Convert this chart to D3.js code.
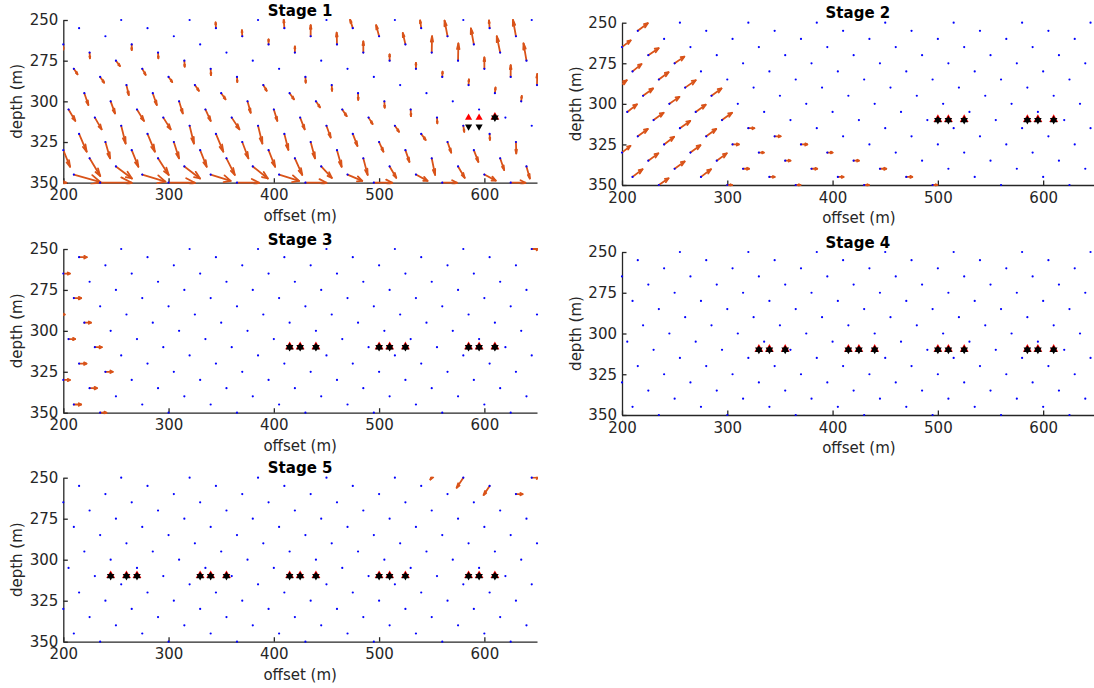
<!DOCTYPE html>
<html><head><meta charset="utf-8">
<script src="https://cdn.jsdelivr.net/npm/d3@7"></script>
<style>
body{margin:0;background:#fff;}
svg{display:block;font-family:"DejaVu Sans",sans-serif;}
</style></head><body>
<svg id="chart" width="1094" height="688"></svg>
<script>
// ---------- data ----------
const xDomain = [200, 650];
const depthDomain = [250, 350];
const xTicks = [200, 300, 400, 500, 600];
const depthTicks = [250, 275, 300, 325, 350];
const stageTitles = ["Stage 1", "Stage 2", "Stage 3", "Stage 4", "Stage 5"];
const xLabel = "offset (m)";
const yLabel = "depth (m)";

// grid of observation points (blue dots): one row every 5 m, points every 65 m
const rowDepth  = [250,255,260,265,270,275,280,285,290,295,300,305,310,315,320,325,330,335,340,345,350];
const rowFirstX = [255,215,240,200,225,250,210,235,260,220,245,205,230,255,215,240,200,225,250,210,235];
const colSpacing = 65;

// arrows: [x (m), depth (m), u (m), w (m, + = deeper)]
const stage1Arrows = [
 [345,255,-0.3,-3.5],[410,255,-0.6,-5.1],[475,255,-2.5,-5.1],[540,255,-1,-4.7],[605,255,-0.6,-4.7],
 [370,260,-0.3,-3.7],[435,260,0,-6.8],[500,260,-2.8,-6.8],[565,260,-2.8,-9.6],[630,260,-2.8,-10],
 [200,265,0,3.2],[265,265,0,3.5],[395,265,0,-3.1],[460,265,-0.3,-7.2],[525,265,-2.5,-7],[590,265,-2.8,-9.8],
 [225,270,0.3,3.5],[290,270,0.3,3.5],[420,270,0,-3.7],[485,270,0,-6.8],[550,270,0.3,-10],[615,270,-3.2,-10],
 [250,275,3.8,3.3],[315,275,0.3,3.7],[510,275,0,-3.9],[575,275,0.3,-10.6],[640,275,-2.8,-10.6],
 [210,280,3.5,3.3],[275,280,3.2,3.7],[340,280,0.3,3.9],[535,280,0,-3.7],[600,280,0,-7],
 [235,285,3.8,3.5],[300,285,3.5,3.1],[365,285,0.3,3.1],[430,285,0.3,3.5],[560,285,0.3,-3.3],[625,285,0,-7.2],
 [260,290,2.2,6.1],[325,290,3.8,3.5],[390,290,3.2,3.5],[455,290,0.3,3.5],[585,290,0.3,-3.5],[650,290,0.2,-6.8],
 [220,295,3.8,7.2],[285,295,3.8,7.2],[350,295,4.1,3.7],[415,295,4.1,3.7],[480,295,0.2,4.1],[610,295,0.6,-3.5],
 [245,300,4.1,7.4],[310,300,3.5,7.4],[375,300,3,7],[440,300,3.8,3.7],[505,300,0.3,3.9],[635,300,0.5,-3.3],
 [205,305,6.4,7],[270,305,6.6,7],[335,305,5,7],[400,305,3.3,7],[465,305,4.2,4.1],[530,305,0.3,4.1],
 [230,310,6.4,7.2],[295,310,7,7.2],[360,310,7.3,7.2],[425,310,4.3,7.2],[490,310,3.8,3.9],[555,310,0.3,3.5],
 [255,315,4.2,10.9],[320,315,4.1,10.9],[385,315,4.1,10.9],[450,315,4,7.2],[515,315,3.9,3.7],[580,315,0.9,3.7],
 [215,320,7.2,10.9],[280,320,7,10.9],[345,320,7,10.9],[410,320,3.8,9.8],[475,320,4.4,7.4],[540,320,4.2,3.7],[605,320,0.3,3.7],
 [240,325,4.4,10],[305,325,4.9,10],[370,325,5.8,10],[435,325,4.1,10],[500,325,4.1,5.9],[565,325,3.5,6.5],[630,325,0.3,7],
 [200,330,6.4,10.2],[265,330,6.3,10.2],[330,330,6.2,10.2],[395,330,6.2,10.2],[460,330,4.4,10.2],[525,330,3.8,7.2],[590,330,4.3,7.2],
 [225,335,10.1,10.9],[290,335,10.1,10.2],[355,335,7.9,10.2],[420,335,7,10.2],[485,335,4.1,10.2],[550,335,3.2,10.2],[615,335,3.8,7.2],
 [250,340,15.2,7.4],[315,340,14.9,7.4],[380,340,14.3,7.4],[445,340,10.1,7],[510,340,6.3,7],[575,340,6.3,7],[640,340,3.2,7.4],
 [210,345,25.4,4.7],[275,345,22,4.3],[340,345,19,3.9],[405,345,19,3.9],[470,345,14,3.9],[535,345,11,3.9],[600,345,10.8,3.7],
 [170,350,33,0],[235,350,30,0],[300,350,25,0],[365,350,21,0],[430,350,20,0],[495,350,17.5,0],[560,350,14,0],[625,350,14,0]
];
const stage2Arrows = [
 [215,255,9.5,-4.7],[200,265,8.2,-4.1],[225,270,9.8,-4.3],[250,275,9.2,-4.1],[210,280,8.5,-4.5],[235,285,9.2,-4.5],
 [195,290,9.5,-4.5],[260,290,10,-4.5],[220,295,9.5,-4.5],[285,295,9.5,-4.5],[245,300,9.5,-4.3],[205,305,9.2,-4.7],
 [270,305,9.5,-4.5],[230,310,9.5,-4.5],[295,310,9.5,-4.5],[255,315,9.8,-4.5],[215,320,9.5,-4.5],[280,320,9.5,-4.5],
 [240,325,9.5,-4.7],[200,330,8,-4.1],[265,330,9.5,-4.5],[225,335,9.5,-4.5],[290,335,9.5,-4.5],[250,340,9.5,-4.5],
 [210,345,9.5,-4.7],[275,345,9.5,-4.7],[235,350,9.2,-4.1],
 [320,315,5.7,0],[345,320,5.7,0],[305,325,6,0],[370,325,6,0],[330,330,4.7,0],[395,330,5,0],[355,335,5,0],[420,335,5,0],
 [315,340,5.7,0],[380,340,5.4,0],[445,340,6,0],[340,345,5,0],[405,345,5.4,0],[470,345,5.7,0],
 [300,350,4.5,0],[365,350,4.5,0],[430,350,4.5,0],[495,350,4.5,0]
];
const stage3Arrows = [
 [215,255,7.3,0],[200,265,6.3,0],[210,280,7,0],[195,290,6.3,0],[220,295,6.3,0],[205,305,6.3,0],[230,310,6.6,0],
 [215,320,7,0],[240,325,7,0],[200,330,6.3,0],[225,335,7,0],[210,345,7,0],[235,350,6,0],[645,250,7,0]
];
const stage4Arrows = [];
const stage5Arrows = [
 [580,250,-6.3,6.1],[605,255,-5.7,5.5],[645,250,7,0],[630,260,6.3,0],[555,245,-6.3,6.1]
];

// markers (depth 310 m)
const markerDepth = 310;
const stage1UpTriangles = [585, 595];
const stage1DownTriangles = [585, 595];
const stage1DownDepth = 315.5;
const stage1Stars = [610];
const stage2Stars = [500,510,525,585,595,610];
const stage3Stars = [415,425,440,500,510,525,585,595,610];
const stage4Stars = [330,340,355,415,425,440,500,510,525,585,595,610];
const stage5Stars = [245,260,270,330,340,355,415,425,440,500,510,525,585,595,610];

// ---------- drawing ----------
const svg = d3.select("#chart");
const axisColor = "#262626", arrowColor = "#D95319", dotColor = "#0000FF";

const panels = [
 {title: stageTitles[0], px:[63.3,537], py:[20,182.7],   arrows: stage1Arrows, stars: stage1Stars},
 {title: stageTitles[1], px:[622,1095.8], py:[22.7,185], arrows: stage2Arrows, stars: stage2Stars},
 {title: stageTitles[2], px:[63.3,537], py:[249,412.7],  arrows: stage3Arrows, stars: stage3Stars},
 {title: stageTitles[3], px:[622,1095.8], py:[252,415],  arrows: stage4Arrows, stars: stage4Stars},
 {title: stageTitles[4], px:[63.3,537], py:[477.7,641.7],arrows: stage5Arrows, stars: stage5Stars}
];

// grid points
const gridPoints = [];
rowDepth.forEach((d, i) => {
  for (let x = rowFirstX[i]; x <= xDomain[1]; x += colSpacing) gridPoints.push([x, d]);
});

function hexagram(R) {
  const r = R / Math.sqrt(3);
  const pts = [];
  for (let i = 0; i < 12; i++) {
    const a = -Math.PI / 2 + i * Math.PI / 6;
    const rr = i % 2 === 0 ? R : r;
    pts.push([rr * Math.cos(a), rr * Math.sin(a)]);
  }
  return "M" + pts.map(p => p[0].toFixed(2) + "," + p[1].toFixed(2)).join("L") + "Z";
}

panels.forEach((p, idx) => {
  const x = d3.scaleLinear().domain(xDomain).range(p.px);
  const y = d3.scaleLinear().domain(depthDomain).range(p.py);
  const g = svg.append("g");

  // axes
  const xAxis = d3.axisBottom(x).tickValues(xTicks).tickSizeInner(-4.5).tickSizeOuter(0).tickPadding(7);
  const yAxis = d3.axisLeft(y).tickValues(depthTicks).tickSizeInner(-4.5).tickSizeOuter(0).tickPadding(5);
  const gx = g.append("g").attr("transform", `translate(0,${p.py[1]})`).call(xAxis);
  const gy = g.append("g").attr("transform", `translate(${p.px[0]},0)`).call(yAxis);
  [gx, gy].forEach(a => {
    a.select(".domain").attr("stroke", axisColor).attr("stroke-width", 1.3);
    a.selectAll(".tick line").attr("stroke", axisColor).attr("stroke-width", 1.3);
    a.selectAll(".tick text").attr("fill", axisColor).style("font-size", "15px")
      .style("font-family", '"DejaVu Sans", sans-serif');
  });

  // clip
  const cid = "clip" + idx;
  svg.append("clipPath").attr("id", cid).append("rect")
    .attr("x", p.px[0]).attr("y", p.py[0] - 1)
    .attr("width", p.px[1] - p.px[0] + 1).attr("height", p.py[1] - p.py[0] + 2.5);

  // arrows (MATLAB quiver style heads)
  const alpha = 0.33, beta = 0.33;
  const line = d3.line();
  const ag = g.append("g").attr("clip-path", `url(#${cid})`)
    .attr("fill", "none").attr("stroke", arrowColor).attr("stroke-width", 1.8)
    .attr("stroke-linecap", "round").attr("stroke-linejoin", "round");
  p.arrows.forEach(([ax, ad, u, w]) => {
    const tx = ax + u, td = ad + w;
    ag.append("path").attr("d", line([[x(ax), y(ad)], [x(tx), y(td)]]));
    const h1 = [tx - alpha * (u + beta * w), td - alpha * (w - beta * u)];
    const h2 = [tx - alpha * (u - beta * w), td - alpha * (w + beta * u)];
    ag.append("path").attr("d", line([[x(h1[0]), y(h1[1])], [x(tx), y(td)], [x(h2[0]), y(h2[1])]]));
  });

  // blue dots
  g.append("g").selectAll("circle").data(gridPoints).join("circle")
    .attr("cx", d => x(d[0])).attr("cy", d => y(d[1])).attr("r", 1.1).attr("fill", dotColor);

  // markers
  const mg = g.append("g");
  if (idx === 0) {
    const tri = d3.symbol(d3.symbolTriangle, 22)();
    stage1UpTriangles.forEach(mx => mg.append("path").attr("d", tri)
      .attr("transform", `translate(${x(mx)},${y(markerDepth)})`).attr("fill", "#FF0000"));
    stage1DownTriangles.forEach(mx => mg.append("path").attr("d", tri)
      .attr("transform", `translate(${x(mx)},${y(stage1DownDepth)}) rotate(180)`).attr("fill", "#000"));
  }
  const redTri = d3.symbol(d3.symbolTriangle, 34)();
  p.stars.forEach(mx => {
    mg.append("path").attr("d", redTri)
      .attr("transform", `translate(${x(mx)},${y(markerDepth) - 0.6})`).attr("fill", "#FF0000");
    mg.append("path").attr("d", hexagram(4.4))
      .attr("transform", `translate(${x(mx)},${y(markerDepth)})`).attr("fill", "#000");
  });

  // texts
  const cx = (p.px[0] + Math.min(p.px[1], 1093)) / 2;
  const cxAxis = (p.px[0] + p.px[1]) / 2;
  g.append("text").attr("x", (p.px[0] + p.px[1]) / 2 - (idx % 2 ? 1 : 0)).attr("y", p.py[0] - 9.5)
    .attr("text-anchor", "middle").attr("dominant-baseline", "central")
    .style("font-size", "15px").style("font-weight", "bold").attr("fill", "#000").text(p.title);
  g.append("text").attr("x", cxAxis).attr("y", p.py[1] + 33)
    .attr("text-anchor", "middle").attr("dominant-baseline", "central")
    .style("font-size", "15px").attr("fill", axisColor).text(xLabel);
  g.append("text").attr("transform", `translate(${p.px[0] - 46.5},${(p.py[0] + p.py[1]) / 2}) rotate(-90)`)
    .attr("text-anchor", "middle").attr("dominant-baseline", "central")
    .style("font-size", "15px").attr("fill", axisColor).text(yLabel);
});
</script>
</body></html>
